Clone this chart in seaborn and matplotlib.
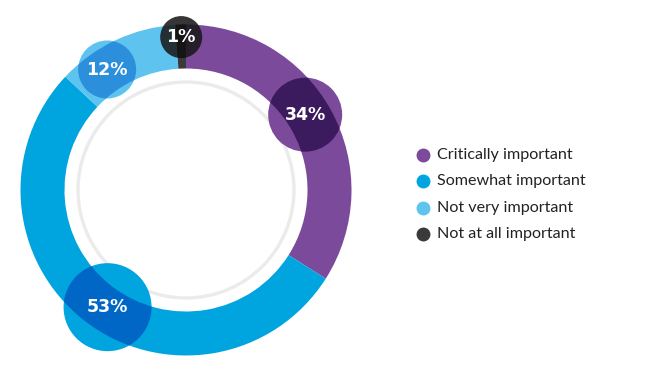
import numpy as np
import matplotlib
matplotlib.use("Agg")
import matplotlib.pyplot as plt
from matplotlib.patches import Circle
import seaborn as sns

# ---- data ----
categories = ["Critically important", "Somewhat important", "Not very important", "Not at all important"]
values = [34, 53, 12, 1]
labels = ["34%", "53%", "12%", "1%"]

# ---- style ----
ring_colors = ["#7B4A9B", "#00A5E0", "#5EC3EE", "#3A3A3A"]
overlap_colors = ["#3C1A5E", "#0067C6", "#2B8FDB", "#151515"]
bubble_r = [37, 44, 29, 21]
bubble_angle_offset = [-3.5, -4.0, -8.0, 0.0]   # degrees, clockwise
bubble_dist = [141, 141, 144, 153]

sns.set_theme(style="white")
plt.rcParams["font.family"] = ["Lato", "DejaVu Sans"]

W, H = 652, 383
fig = plt.figure(figsize=(W / 100, H / 100), dpi=100)
ax = fig.add_axes([0, 0, 1, 1])

cx, cy = 186, H - 190
r_out, width = 165.5, 44

wedges, _ = ax.pie(values, colors=ring_colors, startangle=90, counterclock=False,
                   radius=r_out, center=(cx, cy),
                   wedgeprops=dict(width=width, linewidth=0, antialiased=True))

# inner gray circle
ax.add_patch(Circle((cx, cy), 108, facecolor="none", edgecolor="#EBEBEB", lw=2.4, zorder=1))

# label bubbles
total = sum(values)
start = 0.0
for i, v in enumerate(values):
    mid = start + v / total * 360 / 2 + bubble_angle_offset[i]
    start += v / total * 360
    th = np.deg2rad(90 - mid)
    bx, by = cx + bubble_dist[i] * np.cos(th), cy + bubble_dist[i] * np.sin(th)
    if i == 3:
        base = Circle((bx, by), bubble_r[i], facecolor="#1A1A1A", alpha=0.88, lw=0, zorder=3)
    else:
        base = Circle((bx, by), bubble_r[i], facecolor=ring_colors[i], lw=0, zorder=3)
    ax.add_patch(base)
    ov = Circle((bx, by), bubble_r[i], facecolor=overlap_colors[i], lw=0, zorder=4)
    ax.add_patch(ov)
    ov.set_clip_path(wedges[i])
    ax.text(bx, by, labels[i], color="white", fontsize=12.5, fontweight="bold",
            family=["DejaVu Sans"], ha="center", va="center", zorder=5)

# legend
leg_y = [155, 181, 208, 234]
for i, cat in enumerate(categories):
    y = H - leg_y[i]
    ax.plot([423], [y], marker="o", markersize=9, color=ring_colors[i], lw=0)
    ax.text(437, y, cat, fontsize=11.6, color="#222222", ha="left", va="center")

ax.set_xlim(0, W)
ax.set_ylim(0, H)
ax.set_aspect("equal")
ax.axis("off")
fig.savefig("out.png", dpi=100, facecolor="white")
